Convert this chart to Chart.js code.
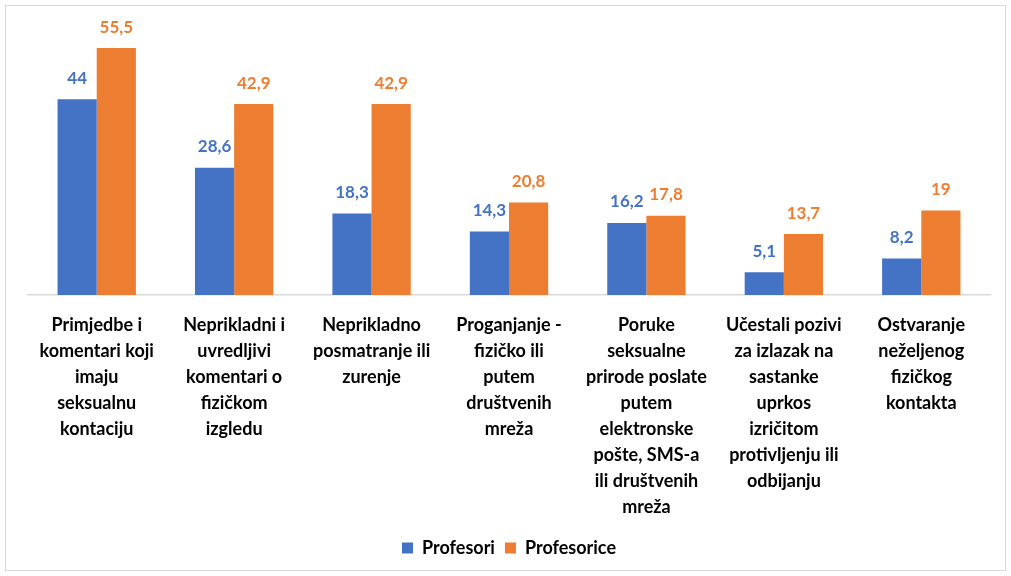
<!DOCTYPE html>
<html>
<head>
<meta charset="utf-8">
<script src="https://cdn.jsdelivr.net/npm/chart.js@4.4.0/dist/chart.umd.min.js"></script>
<style>
    html, body { margin: 0; padding: 0; background: #fff; }
    #wrap { width: 1011px; height: 576px; position: relative; }
</style>
</head>
<body>
<div id="wrap"><canvas id="chart"></canvas></div>
<script>
const categories = [
    ['Primjedbe i', 'komentari koji', 'imaju', 'seksualnu', 'kontaciju'],
    ['Neprikladni i', 'uvredljivi', 'komentari o', 'fizičkom', 'izgledu'],
    ['Neprikladno', 'posmatranje ili', 'zurenje'],
    ['Proganjanje -', 'fizičko ili', 'putem', 'društvenih', 'mreža'],
    ['Poruke', 'seksualne', 'prirode poslate', 'putem', 'elektronske', 'pošte, SMS-a', 'ili društvenih', 'mreža'],
    ['Učestali pozivi', 'za izlazak na', 'sastanke', 'uprkos', 'izričitom', 'protivljenju ili', 'odbijanju'],
    ['Ostvaranje', 'neželjenog', 'fizičkog', 'kontakta']
];
const profesori = [44, 28.6, 18.3, 14.3, 16.2, 5.1, 8.2];
const profesorice = [55.5, 42.9, 42.9, 20.8, 17.8, 13.7, 19];

const FONT = 'Lato, "Open Sans", sans-serif';

// Value labels above each bar, comma as decimal separator
const valueLabels = {
    id: 'valueLabels',
    afterDatasetsDraw(chart) {
        const ctx = chart.ctx;
        ctx.save();
        ctx.font = 'bold 17px ' + FONT;
        ctx.textAlign = 'center';
        ctx.textBaseline = 'middle';
        chart.data.datasets.forEach((ds, i) => {
            ctx.fillStyle = ds.backgroundColor;
            chart.getDatasetMeta(i).data.forEach((bar, j) => {
                ctx.fillText(String(ds.data[j]).replace('.', ','), bar.x, bar.y - 21);
            });
        });
        ctx.restore();
    }
};

// Light frame around the whole chart
const frame = {
    id: 'frame',
    beforeDraw(chart) {
        const ctx = chart.ctx;
        ctx.save();
        ctx.fillStyle = '#fff';
        ctx.fillRect(0, 0, chart.width, chart.height);
        ctx.strokeStyle = '#d9d9d9';
        ctx.lineWidth = 1;
        ctx.strokeRect(5.5, 5.5, chart.width - 11, chart.height - 11);
        ctx.restore();
    }
};

new Chart(document.getElementById('chart'), {
    type: 'bar',
    data: {
        labels: categories,
        datasets: [
            { label: 'Profesori', data: profesori, backgroundColor: '#4472C4' },
            { label: 'Profesorice', data: profesorice, backgroundColor: '#ED7D31' }
        ]
    },
    options: {
        responsive: true,
        maintainAspectRatio: false,
        animation: false,
        layout: { padding: { left: 28, right: 21, top: 28, bottom: 9 } },
        datasets: { bar: { categoryPercentage: 0.57, barPercentage: 1 } },
        scales: {
            x: {
                grid: { display: false },
                border: { color: '#d9d9d9', width: 1.5 },
                ticks: {
                    autoSkip: false,
                    maxRotation: 0,
                    padding: 9,
                    color: '#000',
                    font: { family: FONT, size: 18, weight: 'bold', lineHeight: 1.444 }
                }
            },
            y: { display: false, min: 0, max: 60 }
        },
        plugins: {
            legend: {
                position: 'bottom',
                labels: {
                    boxWidth: 11,
                    boxHeight: 11,
                    padding: 10,
                    color: '#000',
                    font: { family: FONT, size: 18, weight: 'bold' }
                }
            },
            tooltip: { enabled: false }
        }
    },
    plugins: [frame, valueLabels]
});
</script>
</body>
</html>
